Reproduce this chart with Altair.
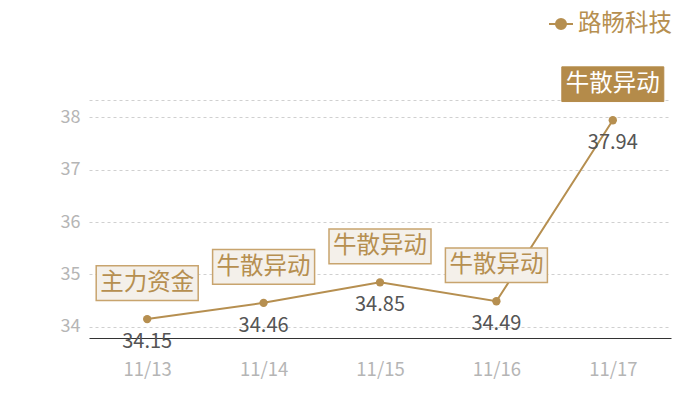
import altair as alt
import pandas as pd

dates = ["11/13", "11/14", "11/15", "11/16", "11/17"]
prices = [34.15, 34.46, 34.85, 34.49, 37.94]
tags = ["主力资金", "牛散异动", "牛散异动", "牛散异动", "牛散异动"]
highlight = [False, False, False, False, True]
series = "路畅科技"

df = pd.DataFrame({"date": dates, "price": prices, "tag": tags,
                   "hl": highlight, "series": [series] * len(dates)})

GOLD = "#b68f50"
FONT = "Noto Sans CJK SC"

x = alt.X("date:N", sort=dates, title=None,
          scale=alt.Scale(type="point", padding=0.5),
          axis=alt.Axis(labelAngle=0, labelFontSize=18.5, labelColor="#b5b5b5",
                        labelFont=FONT, ticks=False, domain=True, domainColor="#333333",
                        domainWidth=1, labelPadding=22, grid=False))
y = alt.Y("price:Q", title=None,
          scale=alt.Scale(domain=[33.79, 38.325], nice=False, zero=False),
          axis=alt.Axis(values=[34, 35, 36, 37, 38, 38.325],
                        labelExpr="datum.value > 38.1 ? '' : datum.label",
                        labelFontSize=18, labelColor="#b5b5b5", labelFont=FONT,
                        ticks=False, domain=False, labelPadding=9,
                        grid=True, gridDash=[3, 3], gridColor="#d0d0d0"))

base = alt.Chart(df)

line = base.mark_line(color=GOLD, strokeWidth=2).encode(
    x=x, y=y,
    color=alt.Color("series:N", scale=alt.Scale(range=[GOLD]),
                    legend=alt.Legend(title=None, orient="none", legendX=459, legendY=-89,
                                      labelFontSize=23.5, labelColor=GOLD, labelFont=FONT,
                                      labelLimit=400,
                                      symbolType="M-1,0L1,0M0.42,0A0.42,0.42,0,1,1,-0.42,0A0.42,0.42,0,1,1,0.42,0Z",
                                      symbolSize=576, symbolStrokeWidth=2,
                                      symbolFillColor=GOLD, symbolStrokeColor=GOLD,
                                      labelOffset=4)))

pts = base.mark_point(filled=True, color=GOLD, size=70, opacity=1).encode(x=x, y=y)

vals = base.mark_text(dy=23, fontSize=20, color="#555555", font=FONT).encode(
    x=x, y=y, text=alt.Text("price:Q", format=".2f"))

box_shape = "M-1,-0.34L1,-0.34L1,0.34L-1,0.34Z"
box_plain = base.transform_filter("!datum.hl").mark_point(
    shape=box_shape, size=102 * 102, filled=True, fill="#f4f0ea",
    stroke="#c8a46e", strokeWidth=1.5, opacity=1, yOffset=-36).encode(x=x, y=y)
box_hl = base.transform_filter("datum.hl").mark_point(
    shape=box_shape, size=102 * 102, filled=True, fill="#b48b4a",
    stroke="#b48b4a", strokeWidth=1, opacity=1, yOffset=-36).encode(x=x, y=y)

tag_plain = base.transform_filter("!datum.hl").mark_text(
    dy=-36, fontSize=23.5, color=GOLD, font=FONT).encode(x=x, y=y, text="tag:N")
tag_hl = base.transform_filter("datum.hl").mark_text(
    dy=-36, fontSize=23.5, color="#ffffff", font=FONT).encode(x=x, y=y, text="tag:N")

chart = alt.layer(line, pts, vals, box_plain, box_hl, tag_plain, tag_hl).properties(
    width=582, height=238,
    autosize=alt.AutoSizeParams(type="none"),
    padding={"left": 81, "top": 92, "right": 18, "bottom": 46},
).configure(font=FONT, view=alt.ViewConfig(stroke=None))

chart.save("out.html", embed_options={"renderer": "svg", "actions": False})
